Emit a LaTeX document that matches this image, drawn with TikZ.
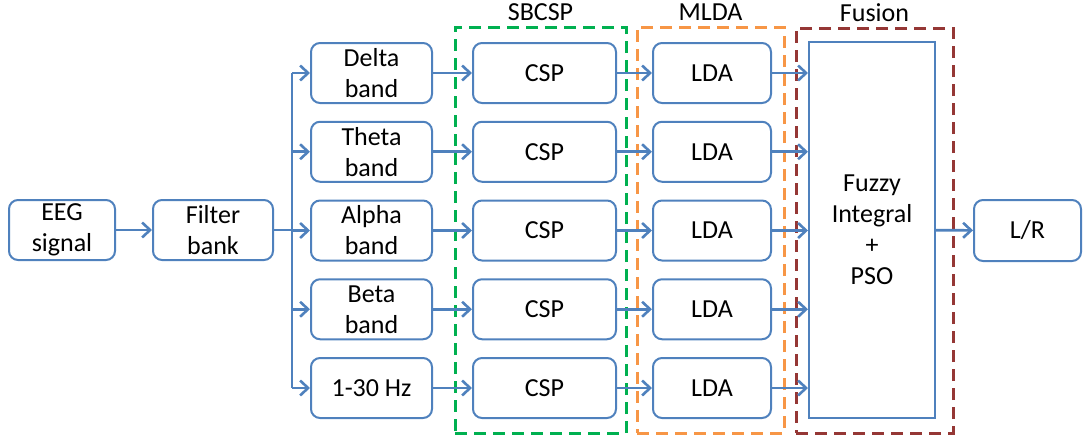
\documentclass[tikz,border=0pt]{standalone}
\usepackage{fontspec}
\setmainfont{Carlito}
\usepackage{tikz}
\usetikzlibrary{positioning,arrows.meta}
\definecolor{bdBlue}{RGB}{79,129,189}
\definecolor{bdGreen}{RGB}{0,176,80}
\definecolor{bdOrange}{RGB}{247,150,70}
\definecolor{bdRed}{RGB}{149,55,53}
\tikzset{
    base/.style={font=\fontsize{26}{31}\selectfont, align=center, text=black},
    block/.style={base, rectangle, rounded corners=9pt, draw=bdBlue, line width=2pt,
                  fill=white, minimum height=60pt, inner sep=2pt},
    group/.style={rectangle, dash pattern=on 12pt off 7pt, line width=3pt, inner sep=0pt},
    title/.style={base, inner sep=4pt},
    link/.style={line width=2.6pt, color=bdBlue},
    flow/.style={link, -{Straight Barb[length=8pt,width=15pt]}}
}

\begin{document}
\begin{tikzpicture}[x=1pt,y=1pt]
  \useasboundingbox (0,0) rectangle (1083,-439);

  % Stage groups
  \node[group, draw=bdGreen, minimum width=171pt, minimum height=406pt] (sbcsp) at (540.5,-230) {};
  \node[group, draw=bdOrange, minimum width=147pt, minimum height=406pt] (mlda) at (710.5,-230) {};
  \node[group, draw=bdRed, minimum width=157pt, minimum height=405pt] (fusion) at (874.5,-230.5) {};
  \node[title, above=1pt of sbcsp] (sbcspLabel) {SBCSP};
  \node[title, above=1pt of mlda] (mldaLabel) {MLDA};
  \node[title, above=1pt of fusion] (fusionLabel) {Fusion};

  % Input chain
  \node[block, minimum width=106pt] (eeg) at (62,-230) {EEG\\signal};
  \node[block, minimum width=120pt] (filter) at (213,-230) {Filter\\bank};
  \draw[flow] (eeg) -- (filter);

  % Fusion and output
  \node[block, rounded corners=0pt, minimum width=126pt, minimum height=376pt] (fuzzy) at (872,-230)
    {Fuzzy\\Integral\\+\\PSO};
  \node[block, minimum width=107pt, minimum height=61pt] (lr) at (1027.5,-230.5) {L/R};
  \draw[flow] (fuzzy) -- (lr);

  % Sub-band rows
  \foreach \i/\y/\txt in {1/73/{Delta\\band}, 2/151.75/{Theta\\band}, 3/230.5/{Alpha\\band},
                          4/309.25/{Beta\\band}, 5/388/{1-30 Hz}} {
    \node[block, minimum width=121pt] (band\i) at (371.5,-\y) {\txt};
    \node[block, minimum width=143pt] (csp\i) at (544.5,-\y) {CSP};
    \node[block, minimum width=118pt] (lda\i) at (712,-\y) {LDA};
    \draw[flow] (band\i) -- (csp\i);
    \draw[flow] (csp\i) -- (lda\i);
    \draw[flow] (lda\i) -- (lda\i.east -| fuzzy.west);
  }

  % Split from the filter bank
  \coordinate (split) at (292,-230);
  \draw[link] (filter.east) -- (split);
  \draw[link] (band1.west -| split) -- (band5.west -| split);
  \foreach \i in {1,...,5}
    \draw[flow] (band\i.west -| split) -- (band\i.west);
\end{tikzpicture}
\end{document}
